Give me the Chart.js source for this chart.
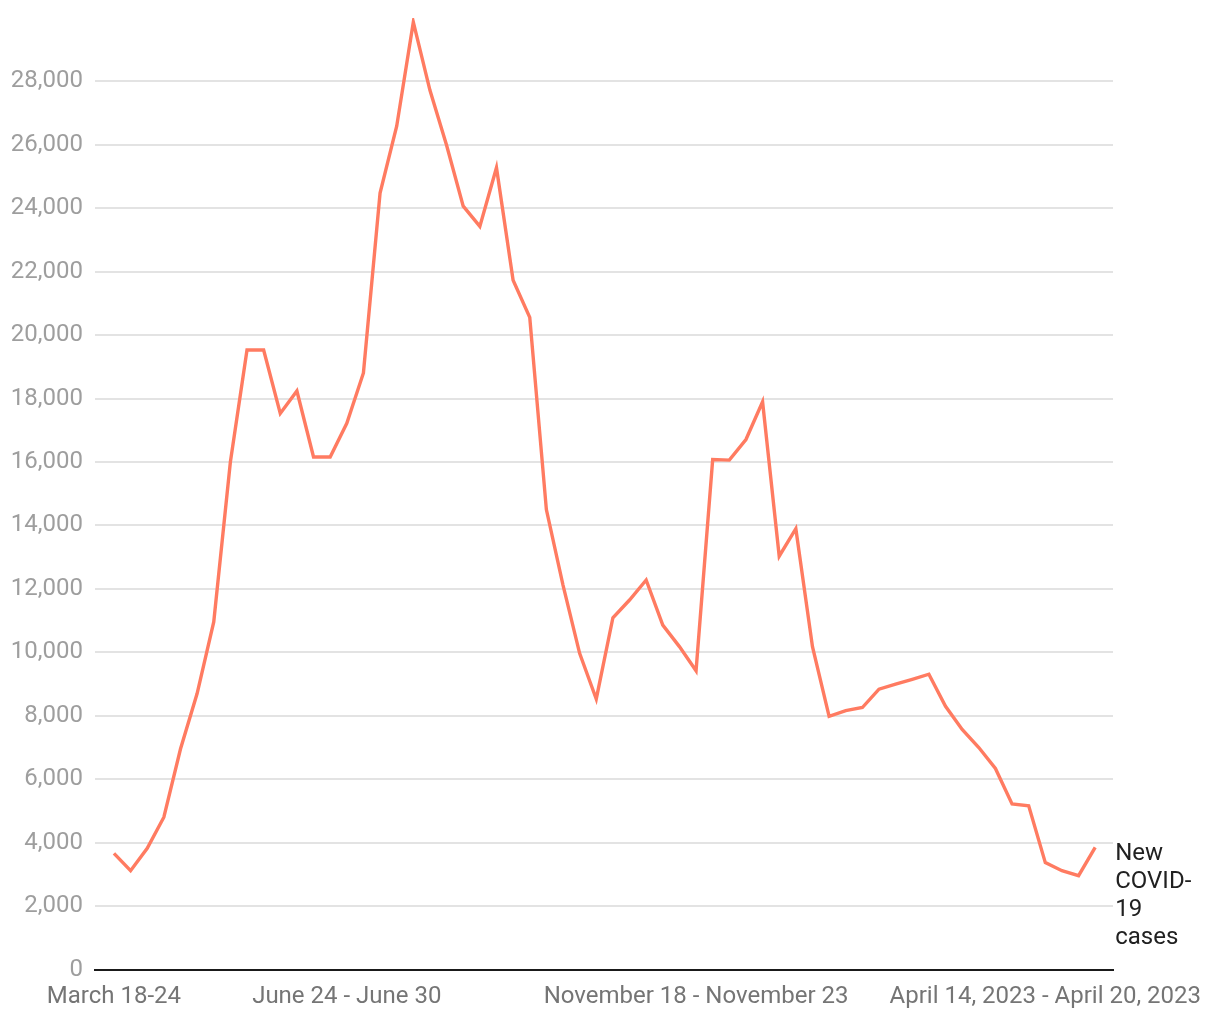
<!DOCTYPE html>
<html>
<head>
<meta charset="utf-8">
<script src="https://cdn.jsdelivr.net/npm/chart.js@4/dist/chart.umd.min.js"></script>
<style>
  html, body { margin: 0; padding: 0; background: #fff; }
  #wrap { width: 1220px; height: 1020px; position: relative; }
</style>
</head>
<body>
<div id="wrap"><canvas id="c" width="1220" height="1020"></canvas></div>
<script>
// Weekly new COVID-19 cases
const cases = [
  3660, 3115, 3820, 4800, 6950, 8700, 10960, 16000, 19530, 19530,
  17530, 18240, 16160, 16160, 17220, 18810, 24480, 26590, 29870, 27720,
  25990, 24070, 23430, 25280, 21730, 20560, 14500, 12120, 9970, 8530,
  11090, 11650, 12280, 10860, 10180, 9420, 16080, 16060, 16710, 17900,
  13030, 13900, 10180, 7980, 8160, 8260, 8840, 9000, 9150, 9310,
  8300, 7570, 7000, 6340, 5220, 5160, 3370, 3115, 2960, 3850
];
// Tick labels shown on the x axis, by week index
const xTickIndex = [0, 14, 35, 56];
const xTickLabels = ["March 18-24", "June 24 - June 30", "November 18 - November 23", "April 14, 2023 - April 20, 2023"];
const seriesLabel = ["New", "COVID-", "19", "cases"];
const yTicks = [0, 2000, 4000, 6000, 8000, 10000, 12000, 14000, 16000, 18000, 20000, 22000, 24000, 26000, 28000];

const points = cases.map((v, i) => ({ x: i, y: v }));

const endLabel = {
  id: 'endLabel',
  afterDatasetsDraw(chart) {
    const meta = chart.getDatasetMeta(0);
    const last = meta.data[meta.data.length - 1];
    const ctx = chart.ctx;
    ctx.save();
    ctx.font = '24px Roboto';
    ctx.fillStyle = '#212121';
    ctx.textAlign = 'left';
    ctx.textBaseline = 'middle';
    seriesLabel.forEach((t, i) => {
      ctx.fillText(t, last.x + 20, last.y + 7 + i * 28);
    });
    ctx.restore();
  }
};

new Chart(document.getElementById('c'), {
  type: 'line',
  data: {
    datasets: [{
      data: points,
      borderColor: '#ff7b61',
      borderWidth: 3.4,
      pointRadius: 0,
      tension: 0,
      fill: false
    }]
  },
  options: {
    responsive: false,
    animation: false,
    layout: { padding: { top: 18, right: 107, bottom: 0, left: 0 } },
    plugins: { legend: { display: false }, tooltip: { enabled: false } },
    scales: {
      x: {
        type: 'linear',
        min: -1.14,
        max: 60.07,
        afterBuildTicks(scale) {
          scale.ticks = xTickIndex.map(v => ({ value: v }));
        },
        afterFit(scale) {
          scale.height = 50.5;
          scale.paddingLeft = 0;
          scale.paddingRight = 0;
        },
        ticks: {
          autoSkip: false,
          maxRotation: 0,
          padding: 13,
          color: '#757575',
          font: { family: 'Roboto', size: 24 },
          callback(value) {
            const k = xTickIndex.indexOf(value);
            return k >= 0 ? xTickLabels[k] : '';
          }
        },
        grid: { display: false, drawTicks: false },
        border: { display: true, color: '#1a1a1a', width: 2 }
      },
      y: {
        min: 0,
        max: 30000,
        afterBuildTicks(scale) {
          scale.ticks = yTicks.map(v => ({ value: v }));
        },
        afterFit(scale) {
          scale.width = 95;
          scale.paddingTop = 0;
          scale.paddingBottom = 0;
        },
        ticks: {
          padding: 12,
          color: '#9e9e9e',
          font: { family: 'Roboto', size: 24 },
          callback(value) { return value.toLocaleString('en-US'); }
        },
        grid: { color: '#e3e3e3', lineWidth: 2, drawTicks: false },
        border: { display: false }
      }
    }
  },
  plugins: [endLabel]
});
</script>
</body>
</html>
